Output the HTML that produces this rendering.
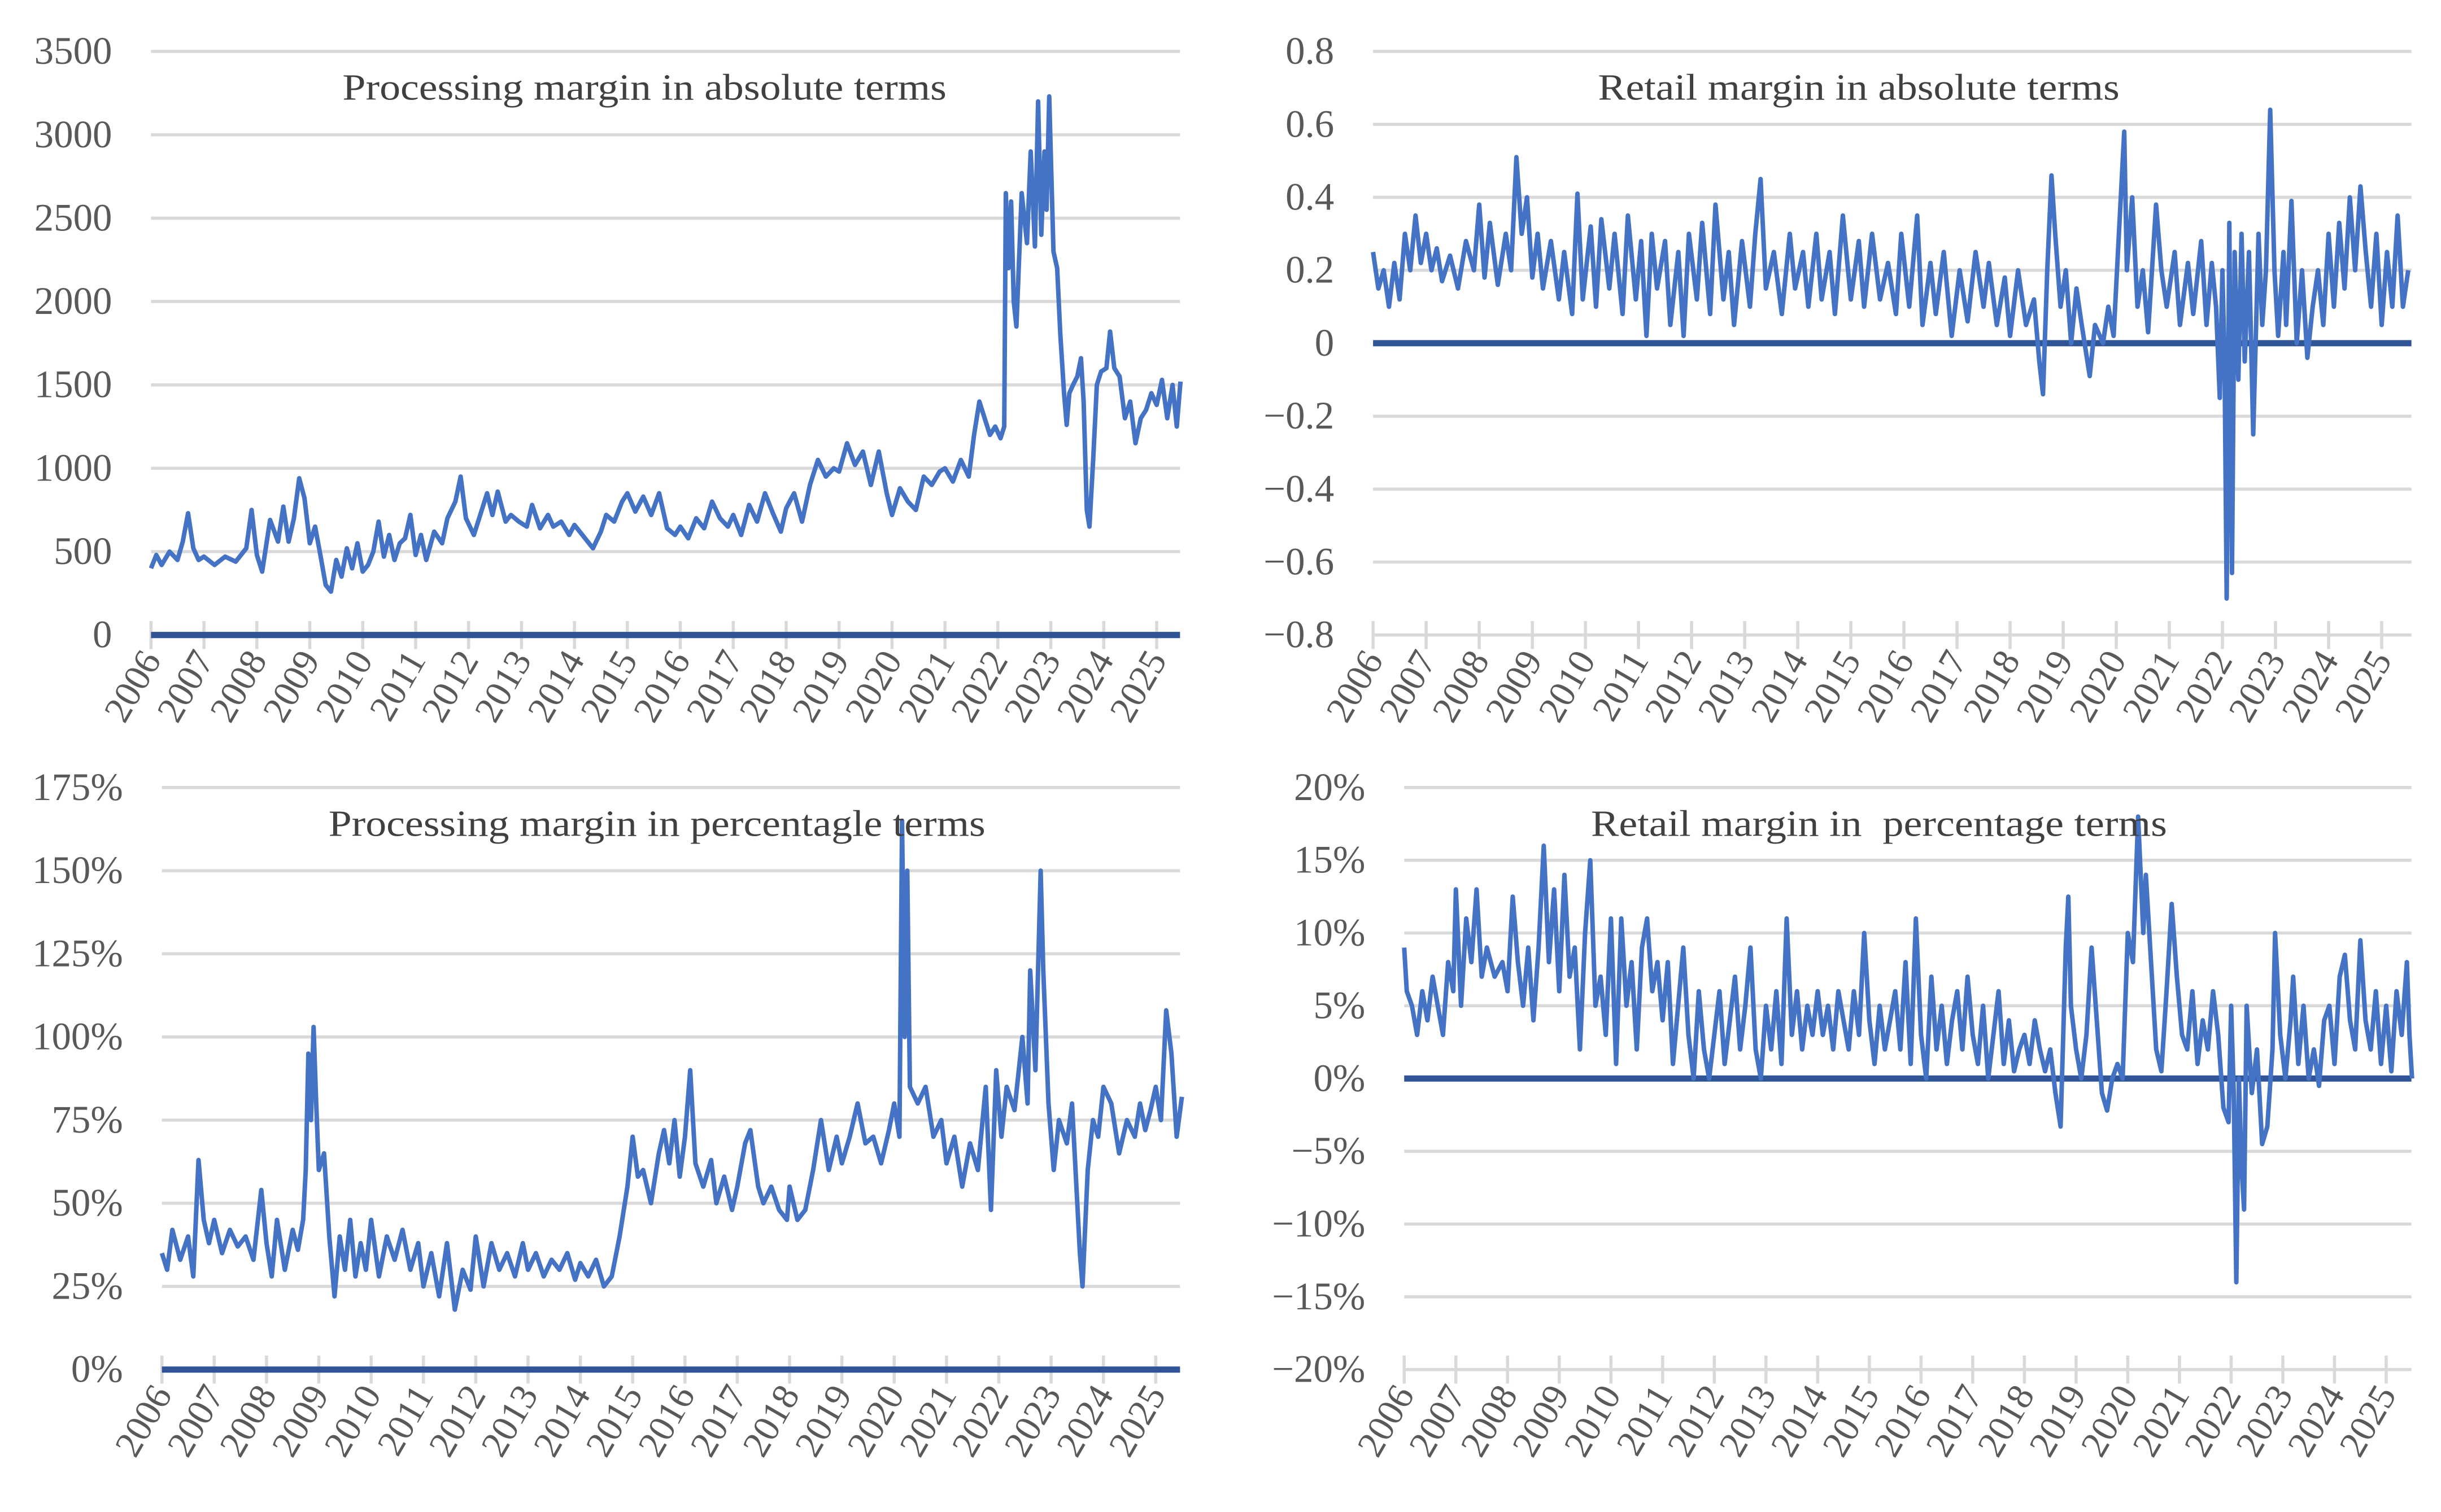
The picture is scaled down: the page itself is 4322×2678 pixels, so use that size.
<!DOCTYPE html>
<html><head><meta charset="utf-8"><style>
html,body{margin:0;padding:0;background:#fff}
svg{display:block}
text{font-family:"Liberation Serif",serif;white-space:pre}
</style></head><body>
<svg id="svg" width="4322" height="2678" viewBox="0 0 1568 971.5" xmlns="http://www.w3.org/2000/svg"></svg>
<script>
// ---- Data ----
const yearLabels = ["2006","2007","2008","2009","2010","2011","2012","2013","2014","2015","2016","2017","2018","2019","2020","2021","2022","2023","2024","2025"];

const procAbsDates = [2006.0,2006.1,2006.2,2006.35,2006.5,2006.6,2006.7,2006.8,2006.9,2007.0,2007.2,2007.4,2007.6,2007.8,2007.9,2008.0,2008.1,2008.25,2008.4,2008.5,2008.6,2008.7,2008.8,2008.9,2009.0,2009.1,2009.2,2009.3,2009.4,2009.5,2009.6,2009.7,2009.8,2009.9,2010.0,2010.1,2010.2,2010.3,2010.4,2010.5,2010.6,2010.7,2010.8,2010.9,2011.0,2011.1,2011.2,2011.35,2011.5,2011.6,2011.75,2011.85,2011.95,2012.1,2012.2,2012.35,2012.45,2012.55,2012.7,2012.8,2012.95,2013.1,2013.2,2013.35,2013.5,2013.6,2013.75,2013.9,2014.0,2014.2,2014.35,2014.5,2014.6,2014.75,2014.9,2015.0,2015.15,2015.3,2015.45,2015.6,2015.75,2015.9,2016.0,2016.15,2016.3,2016.45,2016.6,2016.75,2016.9,2017.0,2017.15,2017.3,2017.45,2017.6,2017.75,2017.9,2018.0,2018.15,2018.3,2018.45,2018.6,2018.75,2018.9,2019.0,2019.15,2019.3,2019.45,2019.6,2019.75,2019.9,2020.0,2020.15,2020.3,2020.45,2020.6,2020.75,2020.9,2021.0,2021.15,2021.3,2021.45,2021.55,2021.65,2021.75,2021.85,2021.95,2022.05,2022.12,2022.15,2022.2,2022.25,2022.3,2022.35,2022.45,2022.55,2022.62,2022.7,2022.76,2022.82,2022.88,2022.92,2022.97,2023.05,2023.12,2023.18,2023.25,2023.3,2023.35,2023.42,2023.5,2023.57,2023.62,2023.68,2023.73,2023.8,2023.87,2023.95,2024.05,2024.12,2024.2,2024.3,2024.4,2024.5,2024.6,2024.7,2024.8,2024.9,2025.0,2025.1,2025.2,2025.3,2025.38,2025.45,2025.5];
const procAbsValues = [400,480,420,500,450,560,730,520,450,470,420,470,440,520,750,480,380,690,560,770,560,700,940,820,550,650,480,300,260,450,350,520,400,550,380,420,500,680,470,600,450,550,580,720,480,600,450,620,550,700,800,950,700,600,700,850,720,860,680,720,680,650,780,640,720,650,680,600,660,580,520,620,720,680,800,850,740,830,720,850,640,600,650,580,700,640,800,700,650,720,600,780,680,850,730,620,760,850,680,900,1050,950,1000,980,1150,1020,1100,900,1100,850,720,880,800,750,950,900,980,1000,920,1050,950,1200,1400,1300,1200,1250,1180,1250,2650,2200,2600,2000,1850,2650,2350,2900,2330,3200,2400,2900,2550,3230,2300,2200,1800,1450,1260,1450,1500,1550,1660,1400,750,650,1050,1500,1580,1600,1820,1600,1550,1300,1400,1150,1300,1350,1450,1380,1530,1300,1500,1250,1520];

const retAbsDates = [2006.0,2006.1,2006.2,2006.3,2006.4,2006.5,2006.6,2006.7,2006.8,2006.9,2007.0,2007.1,2007.2,2007.3,2007.45,2007.6,2007.75,2007.9,2008.0,2008.1,2008.2,2008.35,2008.5,2008.6,2008.7,2008.8,2008.9,2009.0,2009.1,2009.2,2009.35,2009.5,2009.6,2009.75,2009.85,2009.95,2010.1,2010.2,2010.3,2010.45,2010.55,2010.7,2010.8,2010.95,2011.05,2011.15,2011.25,2011.35,2011.5,2011.6,2011.75,2011.85,2011.95,2012.1,2012.2,2012.35,2012.45,2012.6,2012.7,2012.8,2012.95,2013.1,2013.2,2013.3,2013.4,2013.55,2013.7,2013.85,2013.95,2014.1,2014.2,2014.35,2014.45,2014.6,2014.7,2014.85,2015.0,2015.15,2015.25,2015.4,2015.55,2015.7,2015.85,2015.95,2016.1,2016.25,2016.35,2016.5,2016.6,2016.75,2016.9,2017.05,2017.2,2017.35,2017.5,2017.6,2017.75,2017.9,2018.0,2018.15,2018.3,2018.45,2018.55,2018.62,2018.7,2018.78,2018.85,2018.95,2019.05,2019.15,2019.25,2019.35,2019.5,2019.6,2019.75,2019.85,2019.95,2020.05,2020.15,2020.2,2020.3,2020.4,2020.5,2020.6,2020.75,2020.85,2020.95,2021.1,2021.2,2021.35,2021.45,2021.6,2021.7,2021.8,2021.88,2021.95,2022.0,2022.04,2022.08,2022.13,2022.18,2022.23,2022.3,2022.36,2022.42,2022.5,2022.58,2022.68,2022.75,2022.82,2022.9,2022.98,2023.05,2023.15,2023.2,2023.3,2023.4,2023.5,2023.6,2023.7,2023.8,2023.9,2024.0,2024.1,2024.2,2024.3,2024.4,2024.5,2024.6,2024.7,2024.8,2024.9,2025.0,2025.1,2025.2,2025.3,2025.4,2025.5];
const retAbsValues = [0.25,0.15,0.2,0.1,0.22,0.12,0.3,0.2,0.35,0.22,0.3,0.2,0.26,0.17,0.24,0.15,0.28,0.2,0.38,0.18,0.33,0.16,0.3,0.2,0.51,0.3,0.4,0.18,0.3,0.15,0.28,0.12,0.25,0.08,0.41,0.12,0.32,0.1,0.34,0.15,0.3,0.08,0.35,0.12,0.28,0.02,0.3,0.15,0.28,0.05,0.25,0.02,0.3,0.12,0.33,0.08,0.38,0.12,0.25,0.05,0.28,0.1,0.3,0.45,0.15,0.25,0.08,0.3,0.15,0.25,0.1,0.3,0.12,0.25,0.08,0.35,0.12,0.28,0.1,0.3,0.12,0.22,0.08,0.3,0.1,0.35,0.05,0.22,0.08,0.25,0.02,0.2,0.06,0.25,0.1,0.22,0.05,0.18,0.02,0.2,0.05,0.12,-0.05,-0.14,0.2,0.46,0.3,0.1,0.2,0.0,0.15,0.05,-0.09,0.05,0.0,0.1,0.02,0.3,0.58,0.2,0.4,0.1,0.2,0.03,0.38,0.2,0.1,0.25,0.05,0.22,0.08,0.28,0.05,0.22,0.1,-0.15,0.2,-0.05,-0.7,0.33,-0.63,0.25,-0.1,0.3,-0.05,0.25,-0.25,0.3,0.05,0.2,0.64,0.2,0.02,0.25,0.05,0.39,0.0,0.2,-0.04,0.1,0.2,0.05,0.3,0.1,0.33,0.15,0.4,0.2,0.43,0.25,0.1,0.3,0.05,0.25,0.1,0.35,0.1,0.2,0.0];

const procPctDates = [2006.0,2006.1,2006.2,2006.35,2006.5,2006.6,2006.7,2006.8,2006.9,2007.0,2007.15,2007.3,2007.45,2007.6,2007.75,2007.9,2008.0,2008.1,2008.2,2008.35,2008.5,2008.6,2008.7,2008.75,2008.8,2008.85,2008.9,2008.95,2009.0,2009.1,2009.2,2009.3,2009.4,2009.5,2009.6,2009.7,2009.8,2009.9,2010.0,2010.15,2010.3,2010.45,2010.6,2010.75,2010.9,2011.0,2011.15,2011.3,2011.45,2011.6,2011.75,2011.9,2012.0,2012.15,2012.3,2012.45,2012.6,2012.75,2012.9,2013.0,2013.15,2013.3,2013.45,2013.6,2013.75,2013.9,2014.0,2014.15,2014.3,2014.45,2014.6,2014.75,2014.9,2015.0,2015.1,2015.2,2015.35,2015.5,2015.6,2015.7,2015.8,2015.9,2016.0,2016.1,2016.2,2016.35,2016.5,2016.6,2016.75,2016.9,2017.0,2017.15,2017.25,2017.4,2017.5,2017.65,2017.8,2017.95,2018.0,2018.15,2018.3,2018.45,2018.6,2018.75,2018.9,2019.0,2019.15,2019.3,2019.45,2019.6,2019.75,2019.9,2020.0,2020.1,2020.15,2020.2,2020.25,2020.3,2020.45,2020.6,2020.75,2020.9,2021.0,2021.15,2021.3,2021.45,2021.6,2021.75,2021.85,2021.95,2022.05,2022.15,2022.3,2022.45,2022.55,2022.6,2022.7,2022.8,2022.85,2022.95,2023.05,2023.15,2023.3,2023.4,2023.5,2023.55,2023.6,2023.7,2023.8,2023.9,2024.0,2024.15,2024.3,2024.45,2024.6,2024.7,2024.8,2024.9,2025.0,2025.1,2025.2,2025.3,2025.4,2025.5];
const procPctValues = [35,30,42,33,40,28,63,45,38,45,35,42,37,40,33,54,38,28,45,30,42,36,45,60,95,75,103,80,60,65,40,22,40,30,45,28,38,30,45,28,40,33,42,30,38,25,35,22,38,18,30,24,40,25,38,30,35,28,38,30,35,28,33,30,35,27,32,28,33,25,28,40,55,70,58,60,50,65,72,62,75,58,70,90,62,55,63,50,58,48,55,68,72,55,50,55,48,45,55,45,48,60,75,60,70,62,70,80,68,70,62,72,80,70,165,100,150,85,80,85,70,75,62,70,55,68,60,85,48,90,70,85,78,100,80,120,90,150,120,80,60,75,68,80,50,35,25,60,75,70,85,80,65,75,70,80,72,78,85,75,108,95,70,82];

const retPctDates = [2006.0,2006.05,2006.15,2006.25,2006.35,2006.45,2006.55,2006.65,2006.75,2006.85,2006.95,2007.0,2007.1,2007.2,2007.3,2007.4,2007.5,2007.6,2007.75,2007.9,2008.0,2008.1,2008.2,2008.3,2008.4,2008.5,2008.6,2008.7,2008.8,2008.9,2009.0,2009.1,2009.2,2009.3,2009.4,2009.5,2009.6,2009.7,2009.8,2009.9,2010.0,2010.1,2010.2,2010.3,2010.4,2010.5,2010.6,2010.7,2010.8,2010.9,2011.0,2011.1,2011.2,2011.3,2011.4,2011.5,2011.6,2011.7,2011.8,2011.9,2012.0,2012.1,2012.2,2012.3,2012.4,2012.5,2012.6,2012.7,2012.8,2012.9,2013.0,2013.1,2013.2,2013.3,2013.4,2013.5,2013.6,2013.7,2013.8,2013.9,2014.0,2014.1,2014.2,2014.3,2014.4,2014.5,2014.6,2014.7,2014.8,2014.9,2015.0,2015.1,2015.2,2015.3,2015.4,2015.5,2015.6,2015.7,2015.8,2015.9,2016.0,2016.1,2016.2,2016.3,2016.4,2016.5,2016.6,2016.7,2016.8,2016.9,2017.0,2017.1,2017.2,2017.3,2017.4,2017.5,2017.6,2017.7,2017.8,2017.9,2018.0,2018.1,2018.2,2018.3,2018.4,2018.5,2018.6,2018.7,2018.8,2018.85,2018.9,2019.0,2019.1,2019.2,2019.3,2019.4,2019.5,2019.6,2019.7,2019.8,2019.9,2020.0,2020.1,2020.2,2020.3,2020.35,2020.45,2020.55,2020.65,2020.75,2020.85,2020.95,2021.05,2021.15,2021.25,2021.35,2021.45,2021.55,2021.65,2021.75,2021.85,2021.95,2022.0,2022.05,2022.1,2022.15,2022.2,2022.25,2022.3,2022.4,2022.5,2022.6,2022.7,2022.8,2022.85,2022.95,2023.05,2023.15,2023.2,2023.3,2023.4,2023.5,2023.6,2023.7,2023.8,2023.9,2024.0,2024.1,2024.2,2024.3,2024.4,2024.5,2024.6,2024.7,2024.8,2024.9,2025.0,2025.1,2025.2,2025.3,2025.4,2025.45,2025.5];
const retPctValues = [9,6,5,3,6,4,7,5,3,8,6,13,5,11,8,13,7,9,7,8,6,12.5,8,5,9,4,9,16,8,13,6,14,7,9,2,10,15,5,7,3,11,1,11,5,8,2,9,11,6,8,4,8,1,5,9,3,0,6,2,0,3,6,1,4,7,2,5,9,2,0,5,2,6,1,11,3,6,2,5,3,6,3,5,2,6,4,2,6,3,10,4,1,5,2,4,6,2,8,1,11,3,0,7,2,5,1,4,6,2,7,3,1,5,0,3,6,1,4,0.5,2,3,1,4,2,0.5,2,-1,-3.3,9,12.5,5,2,0,3,9,4,-1,-2.2,0,1,0,10,8,18,10,14,8,2,0.5,6,12,7,3,2,6,1,4,2,6,3,-2,-3,5,-1,-14,0,-6,-9,5,-1,2,-4.5,-3.3,2,10,3,0,4,7,1,5,0,2,-0.5,4,5,1,7,8.5,4,2,9.5,4,2,6,1,5,0.5,6,3,8,3,0];

const procAbsTicks = [0,500,1000,1500,2000,2500,3000,3500];
const retAbsTicks = [-0.8,-0.6,-0.4,-0.2,0,0.2,0.4,0.6,0.8];
const procPctTicks = [0,25,50,75,100,125,150,175];
const retPctTicks = [-20,-15,-10,-5,0,5,10,15,20];

// ---- Drawing ----
const NS = "http://www.w3.org/2000/svg";
const svg = document.getElementById("svg");
function el(tag, attrs, parent){
  const e = document.createElementNS(NS, tag);
  for (const k in attrs) e.setAttribute(k, attrs[k]);
  (parent||svg).appendChild(e);
  return e;
}
function fmtNum(v, kind){
  let s;
  if (kind === "pct") s = Math.abs(v) + "%";
  else if (kind === "dec") s = v === 0 ? "0" : Math.abs(v).toFixed(1);
  else s = String(Math.abs(v));
  return (v < 0 ? "\u2212" : "") + s;
}
function drawChart(c){
  const g = el("g", {});
  
  
  const ymin = c.ticks[0], ymax = c.ticks[c.ticks.length-1];
  const yS = v => c.bottom - (v - ymin) / (ymax - ymin) * (c.bottom - c.top);
  const xS = t => c.x0 + (t - 2006) * c.yr;
  c.ticks.forEach(v => {
    const y = yS(v);
    const ln = el("line", {x1:c.left, x2:c.right, y1:y, y2:y, stroke:"#d9d9d9", "stroke-width":2}, g);
    
    
    const t = el("text", {x:c.labelX, y:y+8, "text-anchor":"end", "font-size":25, fill:"#595959"}, g);
    
    
    t.textContent = fmtNum(v, c.kind);
  });
  const axisY = c.bottom;
  yearLabels.forEach((lab, i) => {
    const x = xS(2006 + i);
    const tk = el("line", {x1:x, x2:x, y1:axisY-9, y2:axisY+9, stroke:"#d9d9d9", "stroke-width":2}, g);
    
    
    const t = el("text", {x:x+7, y:axisY+16, "text-anchor":"end", "font-size":24, fill:"#595959", transform:`rotate(-60 ${x+7} ${axisY+16})`}, g);
    
    
    t.textContent = lab;
  });
  const zy = yS(0);
  const zl = el("line", {x1:c.left, x2:c.right, y1:zy, y2:zy, stroke:"#2f5597", "stroke-width":4}, g);
  
  
  let d = "";
  c.dates.forEach((t, i) => { d += (i ? "L" : "M") + xS(t).toFixed(2) + " " + yS(c.values[i]).toFixed(2); });
  const p = el("path", {d:d, fill:"none", stroke:"#4472c4", "stroke-width":2.9, "stroke-linejoin":"round"}, g);
  
  
  const tt = el("text", {x:c.titleX, y:c.top+31, "text-anchor":"middle", "font-size":24, fill:"#404040", textLength:c.titleW, lengthAdjust:"spacingAndGlyphs"}, g);
  
  
  tt.textContent = c.title;
}

drawChart({name:"processing-absolute-chart", title:"Processing margin in absolute terms", titleX:414, titleW:388,
  left:97, right:758, x0:97, yr:34.0, top:33, bottom:408, labelX:72, ticks:procAbsTicks, kind:"int",
  dates:procAbsDates, values:procAbsValues});
drawChart({name:"retail-absolute-chart", title:"Retail margin in absolute terms", titleX:1194, titleW:335,
  left:882, right:1549, x0:882, yr:34.1, top:33, bottom:408, labelX:857, ticks:retAbsTicks, kind:"dec",
  dates:retAbsDates, values:retAbsValues});
drawChart({name:"processing-percentage-chart", title:"Processing margin in percentagle terms", titleX:422, titleW:422,
  left:104, right:758, x0:104, yr:33.6, top:506, bottom:880, labelX:79, ticks:procPctTicks, kind:"pct",
  dates:procPctDates, values:procPctValues});
drawChart({name:"retail-percentage-chart", title:"Retail margin in  percentage terms", titleX:1207, titleW:370,
  left:902, right:1549, x0:902, yr:33.2, top:506, bottom:880, labelX:877, ticks:retPctTicks, kind:"pct",
  dates:retPctDates, values:retPctValues});
</script>
</body></html>
